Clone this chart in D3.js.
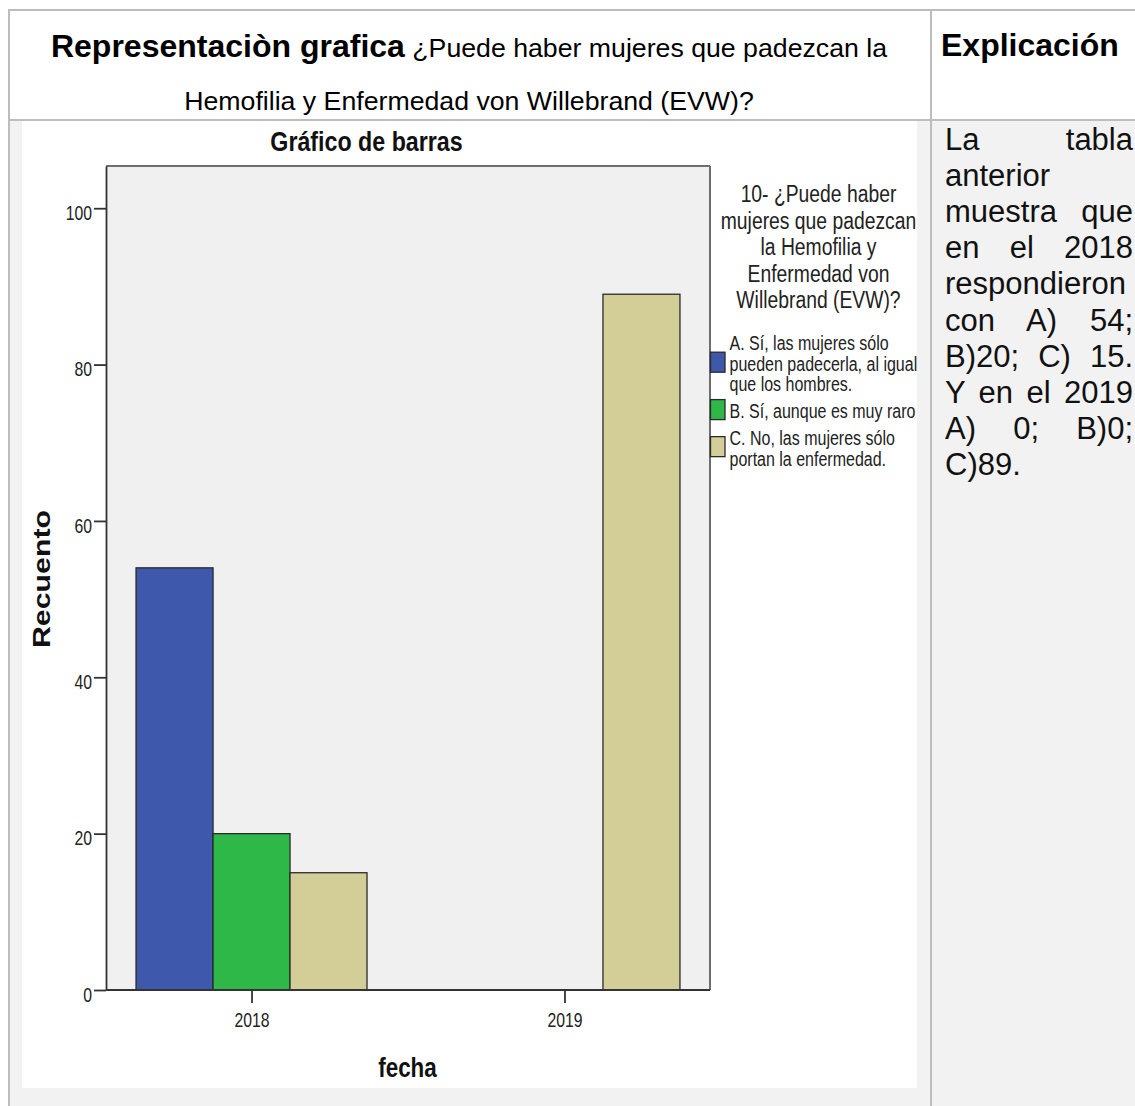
<!DOCTYPE html>
<html><head><meta charset="utf-8">
<script src="https://cdn.jsdelivr.net/npm/d3@7"></script>
<style>
html,body{margin:0;padding:0;background:#fff;}
svg{display:block;font-family:"Liberation Sans",Arial,sans-serif;}
</style></head>
<body>
<svg id="c" width="1135" height="1106"></svg>
<script>
// ---- data ----
const categories = ["2018", "2019"];
const seriesKeys = ["A", "B", "C"];
const valuesA = [54, 0];
const valuesB = [20, 0];
const valuesC = [15, 89];
const seriesColors = ["#3e58ac", "#2eb848", "#d3ce97"];
const yTicks = [0, 20, 40, 60, 80, 100];
const legendTitle = ["10- ¿Puede haber", "mujeres que padezcan", "la Hemofilia y", "Enfermedad von", "Willebrand (EVW)?"];
const legendLabels = [
  ["A. Sí, las mujeres sólo", "pueden padecerla, al igual", "que los hombres."],
  ["B. Sí, aunque es muy raro"],
  ["C. No, las mujeres sólo", "portan la enfermedad."]
];
const chartTitle = "Gráfico de barras";
const yTitle = "Recuento";
const xTitle = "fecha";
const headerBold = "Representaciòn grafica";
const headerQ1 = " ¿Puede haber mujeres que padezcan la";
const headerQ2 = "Hemofilia y Enfermedad von Willebrand (EVW)?";
const headerRight = "Explicación";
const explanationLines = [
  ["La tabla", true], ["anterior", false], ["muestra que", true], ["en el 2018", true],
  ["respondieron", false], ["con A) 54;", true], ["B)20; C) 15.", true], ["Y en el 2019", true],
  ["A) 0; B)0;", true], ["C)89.", false]
];
const seriesValues = [valuesA, valuesB, valuesC];

const svg = d3.select("#c");
function condense(sel, f) {
  sel.each(function () {
    const w = this.getComputedTextLength();
    d3.select(this).attr("textLength", w * f).attr("lengthAdjust", "spacingAndGlyphs");
  });
}

// ---- page / table ----
svg.append("rect").attr("x", 8).attr("y", 10).attr("width", 1127).attr("height", 110).attr("fill", "#fff");
svg.append("rect").attr("x", 8).attr("y", 120).attr("width", 1127).attr("height", 986).attr("fill", "#f2f2f2");
const border = "#bdbdbd";
svg.append("line").attr("x1", 8).attr("x2", 1135).attr("y1", 10).attr("y2", 10).attr("stroke", border).attr("stroke-width", 2);
svg.append("line").attr("x1", 9).attr("x2", 9).attr("y1", 10).attr("y2", 1106).attr("stroke", border).attr("stroke-width", 2);
svg.append("line").attr("x1", 931).attr("x2", 931).attr("y1", 10).attr("y2", 1106).attr("stroke", border).attr("stroke-width", 2);
svg.append("line").attr("x1", 8).attr("x2", 1135).attr("y1", 120).attr("y2", 120).attr("stroke", border).attr("stroke-width", 2);

const h1 = svg.append("text").attr("x", 469).attr("y", 56.5).attr("text-anchor", "middle").attr("fill", "#000");
h1.append("tspan").attr("font-weight", "bold").attr("font-size", 32).text(headerBold);
h1.append("tspan").attr("font-size", 26.7).text(headerQ1);
svg.append("text").attr("x", 469).attr("y", 110).attr("text-anchor", "middle").attr("font-size", 26.7).attr("fill", "#000").text(headerQ2);
svg.append("text").attr("x", 941).attr("y", 56).attr("font-weight", "bold").attr("font-size", 32).attr("fill", "#000").text(headerRight);

// explanation column (justified via word-spacing)
const colX0 = 945, colX1 = 1133;
const bodySize = 31;
explanationLines.forEach(([line, just], i) => {
  const yb = 150 + i * 36.1;
  const t = svg.append("text").attr("x", colX0).attr("y", yb).attr("font-size", bodySize)
    .attr("fill", "#111").style("white-space", "pre").text(line);
  const nSpaces = line.split(" ").length - 1;
  const w = t.node().getComputedTextLength();
  if (just && nSpaces > 0) {
    t.attr("word-spacing", (colX1 - colX0 - w) / nSpaces);
  }
});

// ---- chart image ----
svg.append("rect").attr("x", 22).attr("y", 121).attr("width", 895).attr("height", 967).attr("fill", "#fff");

const plot = { left: 106, right: 710, top: 166, bottom: 990 };
const y = d3.scaleLinear().domain([0, 105.4]).range([plot.bottom, plot.top]);
const x = d3.scalePoint().domain(categories).range([plot.left, plot.right]).padding(0.465);
const xs = d3.scaleBand().domain(seriesKeys).range([-x.step() * 0.369, x.step() * 0.369]).padding(0);

svg.append("rect").attr("x", plot.left).attr("y", plot.top).attr("width", plot.right - plot.left)
  .attr("height", plot.bottom - plot.top).attr("fill", "#f0f0f0");
svg.append("line").attr("x1", plot.left).attr("x2", plot.right).attr("y1", plot.top).attr("y2", plot.top)
  .attr("stroke", "#6e6e6e").attr("stroke-width", 2);
svg.append("line").attr("x1", plot.right).attr("x2", plot.right).attr("y1", plot.top).attr("y2", plot.bottom)
  .attr("stroke", "#6e6e6e").attr("stroke-width", 2);

// bars
const barData = [];
categories.forEach((c, ci) => seriesKeys.forEach((k, si) => {
  const v = seriesValues[si][ci];
  if (v > 0) barData.push({ c, k, v, color: seriesColors[si] });
}));
svg.append("g").selectAll("rect").data(barData).join("rect")
  .attr("x", d => x(d.c) + xs(d.k))
  .attr("width", xs.bandwidth())
  .attr("y", d => y(d.v))
  .attr("height", d => y(0) - y(d.v))
  .attr("fill", d => d.color)
  .attr("stroke", "#2a2a2a").attr("stroke-width", 1.3);

// axes
const yAxis = svg.append("g").attr("transform", `translate(${plot.left},0)`)
  .call(d3.axisLeft(y).tickValues(yTicks).tickSize(12).tickSizeOuter(0).tickPadding(2).tickFormat(d3.format("d")));
yAxis.select(".domain").attr("stroke", "#333").attr("stroke-width", 1.8);
yAxis.selectAll(".tick line").attr("stroke", "#333").attr("stroke-width", 1.8);
yAxis.selectAll(".tick text").attr("font-size", 21).attr("font-family", "Liberation Sans, Arial, sans-serif")
  .attr("fill", "#222").attr("dy", "0.53em").call(condense, 0.75);

const xAxis = svg.append("g").attr("transform", `translate(0,${plot.bottom})`)
  .call(d3.axisBottom(x).tickSize(13).tickSizeOuter(0));
xAxis.select(".domain").attr("stroke", "#333").attr("stroke-width", 1.8).attr("d", `M${plot.left},0H${plot.right}`);
xAxis.selectAll(".tick line").attr("stroke", "#333").attr("stroke-width", 1.8);
xAxis.selectAll(".tick text").attr("font-size", 21).attr("font-family", "Liberation Sans, Arial, sans-serif")
  .attr("fill", "#222").attr("y", 36.7).attr("dy", 0).call(condense, 0.75);

// titles
svg.append("text").attr("x", 366.5).attr("y", 151).attr("text-anchor", "middle").attr("font-weight", "bold")
  .attr("font-size", 27).attr("fill", "#111").text(chartTitle).call(condense, 0.86);
svg.append("text").attr("x", 407.5).attr("y", 1076.5).attr("text-anchor", "middle").attr("font-weight", "bold")
  .attr("font-size", 28).attr("fill", "#111").text(xTitle).call(condense, 0.8);
svg.append("text").attr("transform", "translate(50,579) rotate(-90)").attr("text-anchor", "middle")
  .attr("font-weight", "bold").attr("font-size", 23).attr("fill", "#111").text(yTitle)
  .attr("textLength", 138).attr("lengthAdjust", "spacingAndGlyphs");

// legend
const lg = svg.append("g");
legendTitle.forEach((t, i) => {
  lg.append("text").attr("x", 818.5).attr("y", 202 + i * 26.5).attr("text-anchor", "middle")
    .attr("font-size", 23).attr("fill", "#222").text(t).call(condense, 0.84);
});
let ly = 350;
const lh = 20.7;
legendLabels.forEach((lines, i) => {
  const bases = lines.map((_, j) => ly + j * lh);
  const cy = d3.mean(bases) - 8.5;
  lg.append("rect").attr("x", 710.5).attr("y", cy - 10).attr("width", 14.5).attr("height", 20)
    .attr("fill", seriesColors[i]).attr("stroke", "#2a2a2a").attr("stroke-width", 1.3);
  lines.forEach((t, j) => {
    lg.append("text").attr("x", 729.5).attr("y", bases[j]).attr("font-size", 20).attr("fill", "#222")
      .text(t).call(condense, 0.8);
  });
  ly = bases[bases.length - 1] + lh + 6;
});
</script>
</body></html>
